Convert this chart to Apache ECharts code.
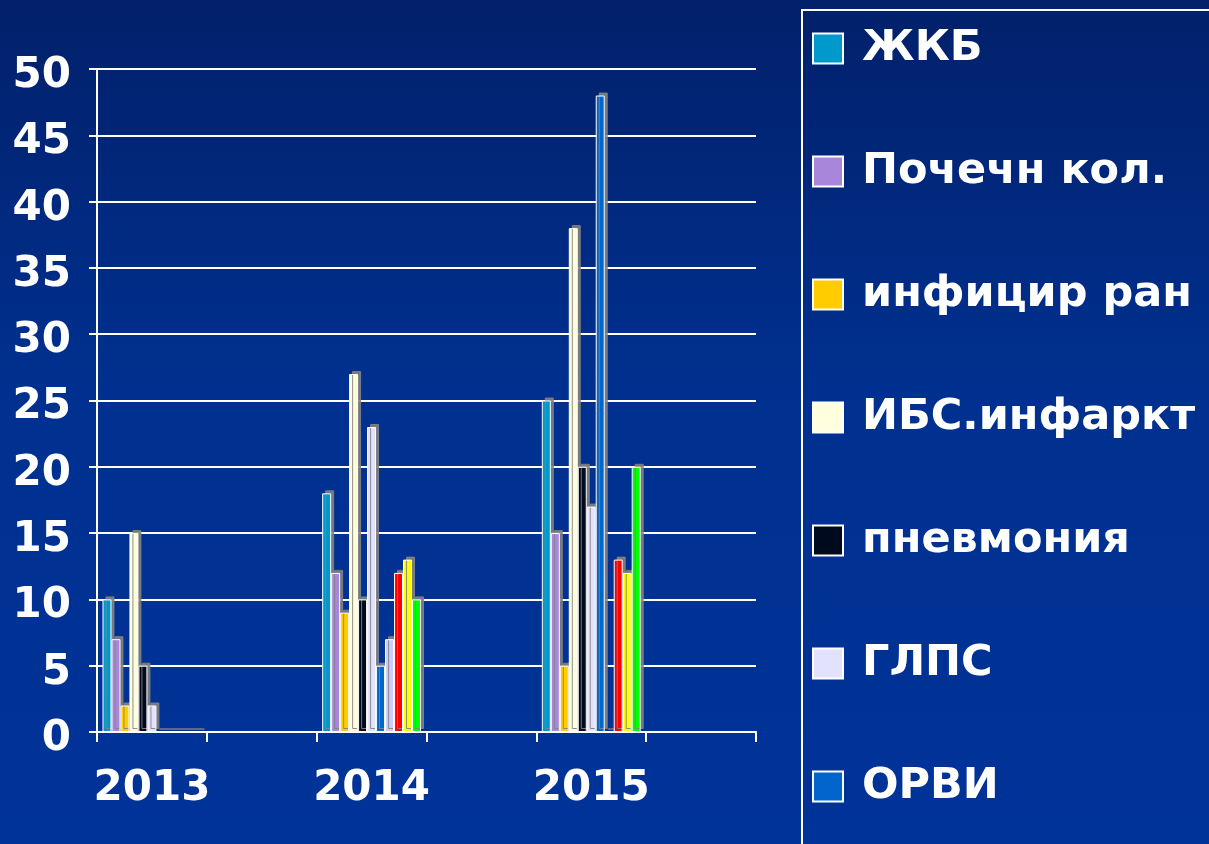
<!DOCTYPE html>
<html>
<head>
<meta charset="utf-8">
<title>chart</title>
<script src="https://cdn.jsdelivr.net/npm/echarts@6/dist/echarts.min.js"></script>
<style>
    html, body { margin: 0; padding: 0; }
    #main { width: 1209px; height: 844px; }
</style>
</head>
<body>
<div id="main"></div>
<script>
// годы (каждый второй столбец пустой, как в исходной диаграмме)
var years = ['2013', '', '2014', '', '2015', ''];

var zhkb      = [10, null, 18, null, 25, null];   // ЖКБ
var pochechn  = [7,  null, 12, null, 15, null];   // Почечн кол.
var inficir   = [2,  null, 9,  null, 5,  null];   // инфицир ран
var ibs       = [15, null, 27, null, 38, null];   // ИБС.инфаркт
var pnevmonia = [5,  null, 10, null, 20, null];   // пневмония
var glps      = [2,  null, 23, null, 17, null];   // ГЛПС
var orvi      = [0,  null, 5,  null, 48, null];   // ОРВИ
// следующие ряды в легенду не попали (обрезаны)
var ser8      = [0,  null, 7,  null, 0,  null];
var ser9      = [0,  null, 12, null, 13, null];
var ser10     = [0,  null, 13, null, 12, null];
var ser11     = [0,  null, 10, null, 20, null];

var yTicks = [0, 5, 10, 15, 20, 25, 30, 35, 40, 45, 50];

(function () {

    const G = function (id) {
        return document.getElementById(id);
    }

    var list = [
        ['ЖКБ', zhkb, '#0099cc'],
        ['Почечн кол.', pochechn, '#a887da'],
        ['инфицир ран', inficir, '#ffcc00'],
        ['ИБС.инфаркт', ibs, '#ffffdd'],
        ['пневмония', pnevmonia, '#000a1e'],
        ['ГЛПС', glps, '#e2e2ff'],
        ['ОРВИ', orvi, '#0066cc'],
        ['ряд 8', ser8, '#ccccff'],
        ['ряд 9', ser9, '#ff0000'],
        ['ряд 10', ser10, '#ffff00'],
        ['ряд 11', ser11, '#00ff00']
    ];

    var font = 'DejaVu Sans';

    var series = list.map(function (item) {
        return {
            name: item[0],
            type: 'bar',
            data: item[1],
            barGap: 0,
            barCategoryGap: '10%',
            itemStyle: {
                color: item[2],
                borderColor: '#ffffff',
                borderWidth: 1,
                shadowColor: 'rgba(130,130,130,0.9)',
                shadowOffsetX: 3,
                shadowOffsetY: -3
            }
        };
    });

    var option = {
        animation: false,
        backgroundColor: {
            type: 'linear', x: 0, y: 0, x2: 0, y2: 1,
            colorStops: [
                {offset: 0, color: '#02206a'},
                {offset: 0.45, color: '#00308f'},
                {offset: 1, color: '#003399'}
            ]
        },
        // рамка легенды уходит за край картинки
        graphic: [{
            type: 'rect',
            shape: {x: 802, y: 10, width: 500, height: 900},
            style: {fill: 'transparent', stroke: '#ffffff', lineWidth: 2},
            silent: true
        }],
        grid: {left: 97, right: 453, top: 69, bottom: 112},
        legend: {
            orient: 'vertical',
            left: 802,
            top: 10,
            padding: [17, 10, 0, 10],
            itemWidth: 30,
            itemHeight: 30,
            itemGap: 80,
            selectedMode: false,
            icon: 'rect',
            data: list.slice(0, 7).map(function (item) { return item[0]; }),
            itemStyle: {borderColor: '#ffffff', borderWidth: 2, shadowColor: 'transparent'},
            textStyle: {
                color: '#ffffff',
                fontSize: 43,
                fontWeight: 'bold',
                fontFamily: font,
                padding: [0, 0, 0, 14]
            }
        },
        xAxis: {
            type: 'category',
            data: years,
            axisLine: {lineStyle: {color: '#ffffff', width: 2}},
            axisTick: {show: true, interval: 0, length: 10, lineStyle: {color: '#ffffff', width: 2}},
            axisLabel: {
                interval: 0,
                margin: 36,
                color: '#ffffff',
                fontSize: 42,
                fontWeight: 'bold',
                fontFamily: font
            }
        },
        yAxis: {
            type: 'value',
            min: yTicks[0],
            max: yTicks[yTicks.length - 1],
            interval: 5,
            axisLine: {show: true, lineStyle: {color: '#ffffff', width: 2}},
            axisTick: {show: true, length: 8, lineStyle: {color: '#ffffff', width: 2}},
            splitLine: {lineStyle: {color: '#ffffff', width: 2}},
            axisLabel: {
                margin: 26,
                formatter: function (v) { return '{a|' + v + '}'; },
                rich: {
                    a: {
                        padding: [14, 0, 0, 0],
                        color: '#ffffff',
                        fontSize: 42,
                        fontWeight: 'bold',
                        fontFamily: font
                    }
                }
            }
        },
        series: series
    };

    echarts.init(G('main')).setOption(option);

})();
</script>
</body>
</html>
